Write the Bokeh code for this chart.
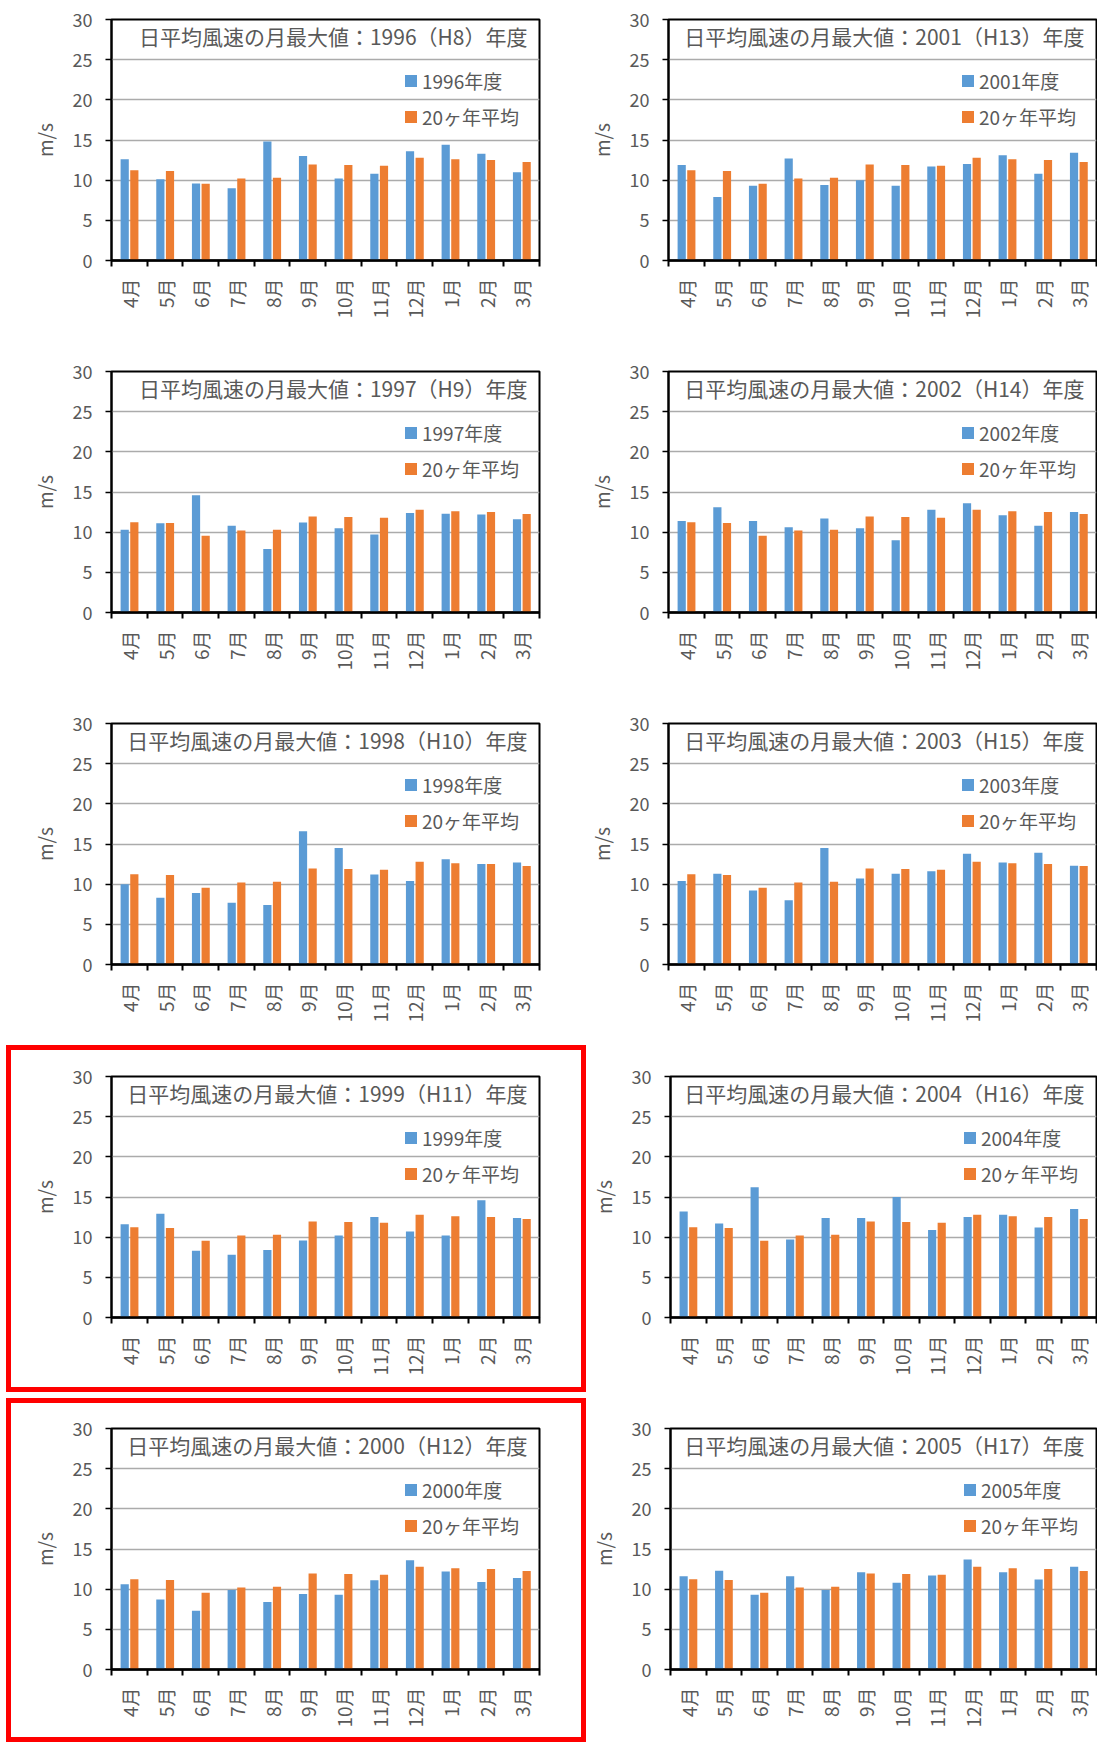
import math
from bokeh.plotting import figure
from bokeh.models import (Range1d, FixedTicker, ColumnDataSource, Label, Legend,
                          LegendItem, Spacer)
from bokeh.layouts import column, row
from bokeh.transform import dodge
from bokeh.embed import file_html
from bokeh.resources import INLINE

# ---------------- data ----------------
months = ["4月", "5月", "6月", "7月", "8月", "9月", "10月", "11月", "12月", "1月", "2月", "3月"]
avg20 = [11.25, 11.15, 9.55, 10.2, 10.3, 11.95, 11.9, 11.8, 12.8, 12.6, 12.5, 12.25]
v1996 = [12.6, 10.1, 9.6, 9.0, 14.8, 13.0, 10.2, 10.8, 13.6, 14.4, 13.3, 11.0]
v1997 = [10.3, 11.1, 14.6, 10.8, 7.9, 11.2, 10.5, 9.7, 12.4, 12.3, 12.2, 11.6]
v1998 = [10.0, 8.3, 8.9, 7.7, 7.4, 16.6, 14.5, 11.2, 10.4, 13.1, 12.5, 12.7]
v1999 = [11.6, 12.9, 8.3, 7.8, 8.4, 9.6, 10.2, 12.5, 10.7, 10.2, 14.6, 12.4]
v2000 = [10.6, 8.7, 7.3, 9.9, 8.4, 9.4, 9.3, 11.1, 13.6, 12.2, 10.9, 11.4]
v2001 = [11.9, 7.9, 9.3, 12.7, 9.4, 10.0, 9.3, 11.7, 12.0, 13.1, 10.8, 13.4]
v2002 = [11.4, 13.1, 11.4, 10.6, 11.7, 10.5, 9.0, 12.8, 13.6, 12.1, 10.8, 12.5]
v2003 = [10.4, 11.3, 9.2, 8.0, 14.5, 10.7, 11.3, 11.6, 13.8, 12.7, 13.9, 12.3]
v2004 = [13.2, 11.7, 16.2, 9.7, 12.4, 12.4, 15.0, 10.9, 12.5, 12.8, 11.2, 13.5]
v2005 = [11.6, 12.3, 9.3, 11.6, 9.9, 12.1, 10.8, 11.7, 13.7, 12.1, 11.2, 12.8]
y_ticks = [0, 5, 10, 15, 20, 25, 30]
avg_label = "20ヶ年平均"

BLUE = "#5B9BD5"
ORANGE = "#ED7D31"
TXT = "#595959"
FONT = "Noto Sans CJK JP"
FRAME_H = 241
FRAME_W = 428


def make_panel(year, heisei, vals, W, bl, bt, H, red=False):
    br = W - bl - FRAME_W
    bb = H - bt - FRAME_H
    kw = {}
    if red:
        kw["styles"] = {"outline": "5px solid #FF0000", "outline-offset": "-5px"}
    p = figure(width=W, height=H, x_range=Range1d(0, len(months)), y_range=Range1d(0, 30),
               output_backend="svg", toolbar_location=None,
               min_border_left=bl, min_border_right=br,
               min_border_top=bt, min_border_bottom=bb, **kw)
    p.background_fill_color = "white"
    if red:
        p.border_fill_alpha = 0
    else:
        p.border_fill_color = "white"
    p.outline_line_color = "black"
    p.outline_line_width = 2

    centers = [i + 0.5 for i in range(len(months))]
    src = ColumnDataSource(dict(x=centers, yr=vals, avg=avg20))
    r1 = p.vbar(x=dodge("x", -0.13), top="yr", width=0.23, source=src,
                fill_color=BLUE, line_color=None)
    r2 = p.vbar(x=dodge("x", 0.14), top="avg", width=0.23, source=src,
                fill_color=ORANGE, line_color=None)

    # grid
    p.xgrid.visible = False
    p.ygrid.ticker = FixedTicker(ticks=y_ticks[1:-1])
    p.ygrid.grid_line_color = "#ABABAB"
    p.ygrid.grid_line_width = 1.6

    # y axis
    ya = p.yaxis[0]
    ya.ticker = FixedTicker(ticks=y_ticks)
    ya.axis_line_color = "black"
    ya.axis_line_width = 2
    ya.major_tick_line_color = "black"
    ya.major_tick_line_width = 1.5
    ya.major_tick_out = 6
    ya.major_tick_in = 0
    ya.minor_tick_line_color = None
    ya.major_label_standoff = 13
    ya.major_label_text_font = FONT
    ya.major_label_text_font_size = "18px"
    ya.major_label_text_color = TXT
    ya.axis_label = "m/s"
    ya.axis_label_standoff = 12
    ya.axis_label_text_font = FONT
    ya.axis_label_text_font_size = "19px"
    ya.axis_label_text_font_style = "normal"
    ya.axis_label_text_color = TXT

    # x axis: labels at centres, ticks at category boundaries
    xa = p.xaxis[0]
    xa.ticker = FixedTicker(ticks=centers, minor_ticks=list(range(len(months) + 1)))
    overrides = {}
    for c, m in zip(centers, months):
        overrides[c] = m
        overrides[str(c)] = m
    xa.major_label_overrides = overrides
    xa.major_label_orientation = math.pi / 2
    xa.axis_line_color = "black"
    xa.axis_line_width = 2.5
    xa.major_tick_line_color = None
    xa.major_tick_out = 6
    xa.major_tick_in = 0
    xa.minor_tick_line_color = "black"
    xa.minor_tick_line_width = 2
    xa.minor_tick_out = 6
    xa.minor_tick_in = 0
    xa.major_label_standoff = 12
    xa.major_label_text_font = FONT
    xa.major_label_text_font_size = "19px"
    xa.major_label_text_color = TXT

    # title inside the plot area
    title = f"日平均風速の月最大値：{year}（H{heisei}）年度"
    p.add_layout(Label(x=len(months), y=30, x_offset=-12, y_offset=-16.5, text=title,
                       text_align="right", text_baseline="middle",
                       text_font=FONT, text_font_size="21px", text_color=TXT))

    # legend
    leg = Legend(items=[LegendItem(label=f"{year}年度", renderers=[r1]),
                        LegendItem(label=avg_label, renderers=[r2])],
                 location=(292, FRAME_H - 111), orientation="vertical",
                 glyph_width=15, glyph_height=15, label_height=23, spacing=9,
                 label_standoff=4, padding=0, margin=0,
                 border_line_color=None, background_fill_alpha=0,
                 label_text_font=FONT, label_text_font_size="19px", label_text_color=TXT)
    p.add_layout(leg, "center")
    return p


rows = []
# rows 1-3 : plain panels
for (ly, lh, lv), (ry, rh, rv), bt, H in [
        ((1996, 8, v1996), (2001, 13, v2001), 19, 350),
        ((1997, 9, v1997), (2002, 14, v2002), 21, 352),
        ((1998, 10, v1998), (2003, 15, v2003), 21, 343)]:
    pl = make_panel(ly, lh, lv, 560, 111, bt, H)
    pr = make_panel(ry, rh, rv, 537, 108, bt, H)
    rows.append(row(pl, pr, spacing=0))

# rows 4-5 : left panels framed in red
for (ly, lh, lv), (ry, rh, rv), bt, HL, HR in [
        ((1999, 11, v1999), (2004, 16, v2004), 31, 347, 353),
        ((2000, 12, v2000), (2005, 17, v2005), 30, 344, 344)]:
    pl = make_panel(ly, lh, lv, 580, 105, bt, HL, red=True)
    pr = make_panel(ry, rh, rv, 511, 82, bt, HR)
    if HR > HL:
        left = column(pl, Spacer(width=580, height=HR - HL), spacing=0)
    else:
        left = pl
    rows.append(row(Spacer(width=6, height=HR), left, pr, spacing=0))

layout = column(*rows, spacing=0)
open("out.html", "w").write(file_html(layout, INLINE))
